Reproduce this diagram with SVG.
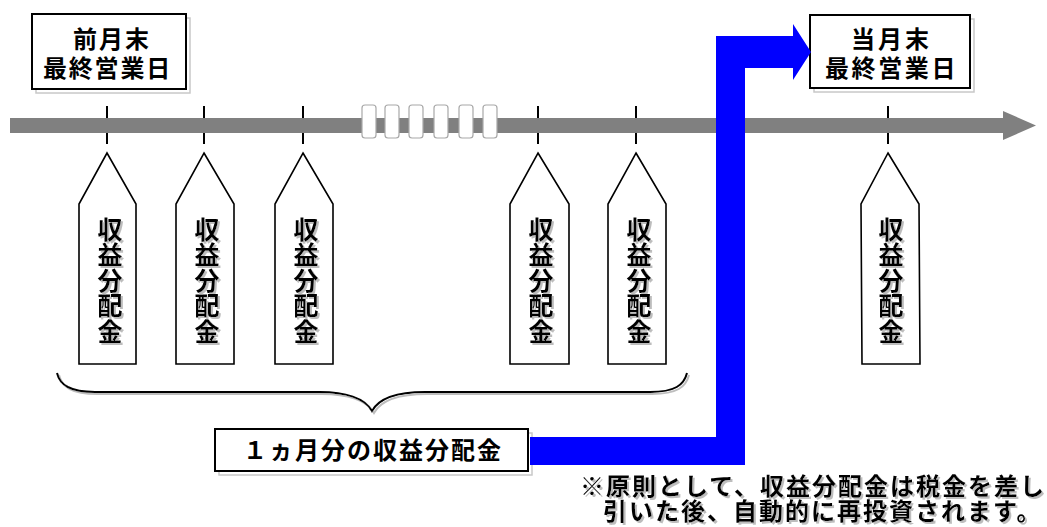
<svg xmlns="http://www.w3.org/2000/svg" width="1047" height="527" viewBox="0 0 1047 527">
<defs>
<style>
.jp{font-family:"Noto Sans CJK JP","Noto Sans CJK SC",sans-serif;font-weight:bold;fill:#000;}
.box{fill:#fff;stroke:#000;stroke-width:2;}
.shadowbox{fill:none;stroke:#c8c8c8;stroke-width:1.5;}
.pent{fill:#fff;stroke:#000;stroke-width:1.6;}
.tick{stroke:#000;stroke-width:2;}
.gap{fill:#fff;stroke:#a8a8a8;stroke-width:1.2;}
.vt{font-size:25px;writing-mode:vertical-rl;letter-spacing:0.6px;}
</style>
<filter id="sh" x="-10%" y="-10%" width="130%" height="130%">
<feDropShadow dx="2" dy="2" stdDeviation="0" flood-color="#bdbdbd" flood-opacity="1"/>
</filter>
</defs>
<rect width="1047" height="527" fill="#fff"/>

<g id="ticks">
<line class="tick" x1="107" y1="106" x2="107" y2="144"/>
<line class="tick" x1="204" y1="106" x2="204" y2="144"/>
<line class="tick" x1="303" y1="106" x2="303" y2="144"/>
<line class="tick" x1="538" y1="106" x2="538" y2="144"/>
<line class="tick" x1="636" y1="106" x2="636" y2="144"/>
<line class="tick" x1="888" y1="106" x2="888" y2="144"/>
</g>

<g id="timeline">
<polygon points="10,118 1003,118 1003,111 1036,125.5 1003,140 1003,133 10,133" fill="#808080"/>
<rect class="gap" x="362" y="105" width="14" height="33" rx="3"/>
<rect class="gap" x="385" y="105" width="14" height="33" rx="3"/>
<rect class="gap" x="409" y="105" width="14" height="33" rx="3"/>
<rect class="gap" x="434" y="105" width="14" height="33" rx="3"/>
<rect class="gap" x="459" y="105" width="14" height="33" rx="3"/>
<rect class="gap" x="483" y="105" width="14" height="33" rx="3"/>
</g>

<g id="node-prev-month-end">
<rect class="shadowbox" x="36" y="18" width="154" height="75"/>
<rect class="box" x="32" y="14" width="154" height="75"/>
<text class="jp" font-size="24"><tspan letter-spacing="2" x="73" y="48">前月末</tspan><tspan letter-spacing="1.8" x="43" y="76.5">最終営業日</tspan></text>
</g>

<g id="node-this-month-end">
<rect class="shadowbox" x="814" y="19" width="160" height="73"/>
<rect class="box" x="810" y="15" width="160" height="73"/>
<text class="jp" font-size="24"><tspan letter-spacing="3" x="851" y="48">当月末</tspan><tspan letter-spacing="2.6" x="825" y="76.5">最終営業日</tspan></text>
</g>

<g id="node-dist-1">
<polygon class="pent" points="107,153 136,204 136,364 79,364 79,204"/>
<text class="jp vt" filter="url(#sh)" x="110" y="216.5">収益分配金</text>
</g>
<g id="node-dist-2">
<polygon class="pent" points="204,153 234,204 234,364 176,364 176,204"/>
<text class="jp vt" filter="url(#sh)" x="207" y="216.5">収益分配金</text>
</g>
<g id="node-dist-3">
<polygon class="pent" points="303,153 333,204 333,364 275,364 275,204"/>
<text class="jp vt" filter="url(#sh)" x="306" y="216.5">収益分配金</text>
</g>
<g id="node-dist-4">
<polygon class="pent" points="538,153 569,204 569,364 510,364 510,204"/>
<text class="jp vt" filter="url(#sh)" x="541" y="216.5">収益分配金</text>
</g>
<g id="node-dist-5">
<polygon class="pent" points="636,153 666,204 666,364 608,364 608,204"/>
<text class="jp vt" filter="url(#sh)" x="639" y="216.5">収益分配金</text>
</g>
<g id="node-dist-6">
<polygon class="pent" points="888,153 919,204 920,364 862,364 861,204"/>
<text class="jp vt" filter="url(#sh)" x="891" y="216.5">収益分配金</text>
</g>

<g id="brace">
<path d="M57,373 C60,385 70,392 95,392 L320,392 C345,392 365,398 372,411 C379,398 399,392 425,392 L650,392 C675,392 684,385 687,373" fill="none" stroke="#000" stroke-width="2" filter="url(#sh)"/>
</g>

<g id="node-monthly-total">
<rect class="shadowbox" x="219" y="433" width="313" height="42"/>
<rect class="box" x="215" y="429" width="313" height="42"/>
<text class="jp" font-size="24" letter-spacing="2" x="243" y="459">１ヵ月分の収益分配金</text>
</g>

<g id="connectors">
<polygon points="530,437 716,437 716,36 793,36 793,24 811,52 793,80 793,68 745,68 745,465 530,465" fill="#0000ff"/>
</g>

<g id="note">
<text class="jp" font-size="24" letter-spacing="2" filter="url(#sh)"><tspan x="580" y="495">※原則として、収益分配金は税金を差し</tspan><tspan x="603" y="520">引いた後、自動的に再投資されます。</tspan></text>
</g>
</svg>
